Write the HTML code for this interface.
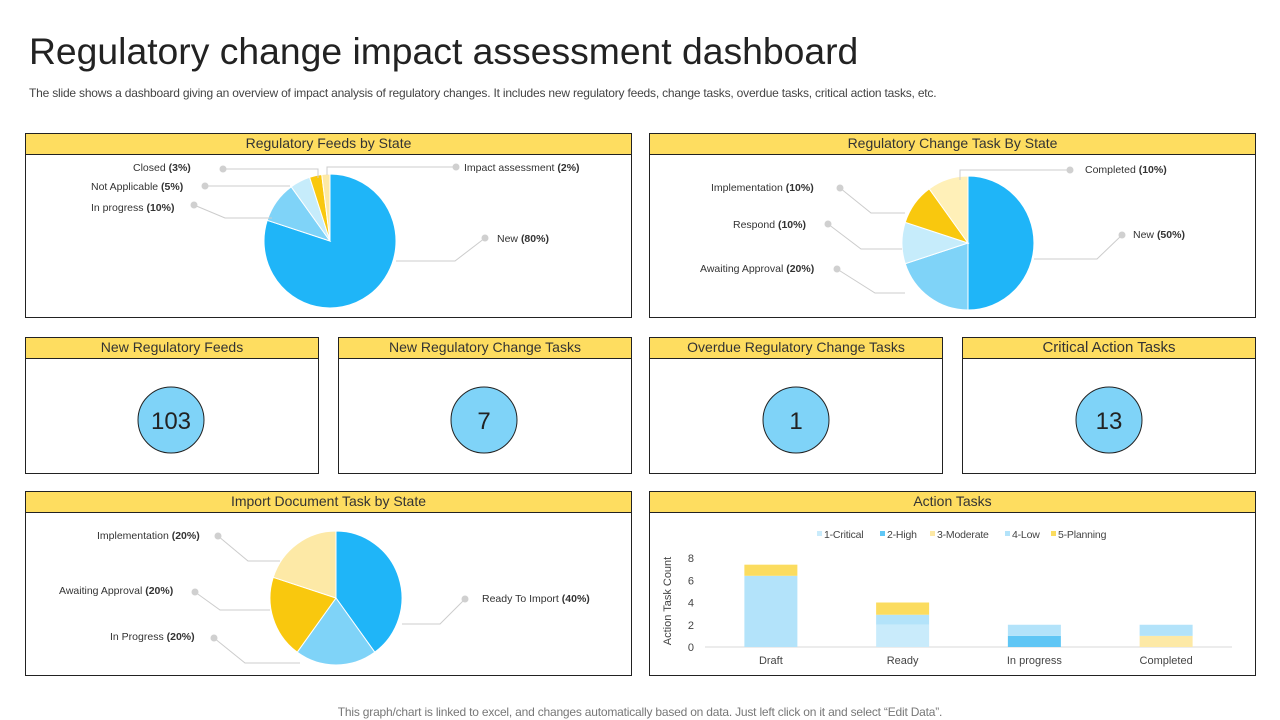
<!DOCTYPE html>
<html><head><meta charset="utf-8">
<style>
body{margin:0;width:1280px;height:720px;background:#fff;font-family:"Liberation Sans",sans-serif;overflow:hidden;position:relative}
.t{position:absolute;left:29px;top:30px;font-size:37.3px;color:#222}
.s{position:absolute;left:29px;top:86px;font-size:12px;color:#444;letter-spacing:-0.2px}
.f{position:absolute;left:0;width:1280px;text-align:center;top:705px;font-size:12px;color:#777;letter-spacing:-0.2px}
.p{position:absolute;border:1px solid #222;box-sizing:border-box}
.h{background:#fedd60;border-bottom:1px solid #222;height:20px;line-height:19px;text-align:center;font-size:14px;color:#333}
svg{position:absolute;left:0;top:0}
</style></head><body>
<div class="t">Regulatory change impact assessment dashboard</div>
<div class="s">The slide shows a dashboard giving an overview of impact analysis of regulatory changes. It includes new regulatory feeds, change tasks, overdue tasks, critical action tasks, etc.</div>
<div class="p" style="left:25px;top:133px;width:607px;height:185px"><div class="h">Regulatory Feeds by State</div></div>
<div class="p" style="left:649px;top:133px;width:607px;height:185px"><div class="h">Regulatory Change Task By State</div></div>
<div class="p" style="left:25px;top:337px;width:294px;height:137px"><div class="h">New Regulatory Feeds</div></div>
<div class="p" style="left:338px;top:337px;width:294px;height:137px"><div class="h">New Regulatory Change Tasks</div></div>
<div class="p" style="left:649px;top:337px;width:294px;height:137px"><div class="h">Overdue Regulatory Change Tasks</div></div>
<div class="p" style="left:962px;top:337px;width:294px;height:137px"><div class="h" style="font-size:15px">Critical Action Tasks</div></div>
<div class="p" style="left:25px;top:491px;width:607px;height:185px"><div class="h">Import Document Task by State</div></div>
<div class="p" style="left:649px;top:491px;width:607px;height:185px"><div class="h">Action Tasks</div></div>
<div class="f">This graph/chart is linked to excel, and changes automatically based on data. Just left click on it and select “Edit Data”.</div>
<svg id="s" width="1280" height="720" font-family="Liberation Sans, sans-serif"></svg>
<script>
// pie data
const pie1Labels=["New","In progress","Not Applicable","Closed","Impact assessment"];
const pie1Values=[80,10,5,3,2];
const pie2Labels=["New","Awaiting Approval","Respond","Implementation","Completed"];
const pie2Values=[50,20,10,10,10];
const pie3Labels=["Ready To Import","In Progress","Awaiting Approval","Implementation"];
const pie3Values=[40,20,20,20];
const kpiNames=["New Regulatory Feeds","New Regulatory Change Tasks","Overdue Regulatory Change Tasks","Critical Action Tasks"];
const kpiValues=[103,7,1,13];
// bar data
const barCategories=["Draft","Ready","In progress","Completed"];
const seriesNames=["1-Critical","2-High","3-Moderate","4-Low","5-Planning"];
const critical=[0,2,0,0];
const high=[0,0,1,0];
const moderate=[0,0,0,1];
const low=[6.4,0.9,1,1];
const planning=[1,1.1,0,0];
const yTicks=[0,2,4,6,8];

const S=document.getElementById('s');const NS='http://www.w3.org/2000/svg';
function el(t,a,txt){const e=document.createElementNS(NS,t);for(const k in a)e.setAttribute(k,a[k]);if(txt!==undefined)e.textContent=txt;S.appendChild(e);return e;}
function pie(cx,cy,rx,ry,vals,cols,names){
  const tot=vals.reduce((a,b)=>a+b,0);let a0=0;
  vals.forEach((v,i)=>{const a1=a0+v/tot*2*Math.PI;
    const x0=cx+rx*Math.sin(a0),y0=cy-ry*Math.cos(a0),x1=cx+rx*Math.sin(a1),y1=cy-ry*Math.cos(a1);
    const p=el('path',{d:`M${cx},${cy}L${x0},${y0}A${rx},${ry} 0 ${a1-a0>Math.PI?1:0} 1 ${x1},${y1}Z`,fill:cols[i],stroke:'#fff','stroke-width':1});
    
    
    a0=a1;});
}
function lab(x,y,name,val,dx,dy,lx,ly){
  el('polyline',{points:`${dx},${dy} ${lx[0]},${ly[0]} ${lx[1]},${ly[1]}`,fill:'none',stroke:'#ccc','stroke-width':1});
  el('circle',{cx:dx,cy:dy,r:3.5,fill:'#d0d0d0'});
  const t=el('text',{x:x,y:y,'font-size':10.5,fill:'#333'});
  const a=document.createElementNS(NS,'tspan');a.textContent=name+' ';t.appendChild(a);
  const b=document.createElementNS(NS,'tspan');b.setAttribute('font-weight','bold');b.textContent='('+val+'%)';t.appendChild(b);
  
  
}
const C1='#1fb5f8',C2='#7fd3f8',C3='#c6ecfb',C4='#f9c80e',C5='#fde9a6';
pie(330,241,66,67,pie1Values,[C1,C2,C3,C4,C5],pie1Labels);
lab(497,242,pie1Labels[0],pie1Values[0],485,238,[455,396],[261,261]);
lab(91,211,pie1Labels[1],pie1Values[1],194,205,[225,272],[218,218]);
lab(91,190,pie1Labels[2],pie1Values[2],205,186,[290,290],[186,186]);
lab(133,171,pie1Labels[3],pie1Values[3],223,169,[318,318],[169,178]);
lab(464,171,pie1Labels[4],pie1Values[4],456,167,[327,327],[167,175]);
pie(968,243,66,67,pie2Values,[C1,C2,C3,C4,'#fff0b8'],pie2Labels);
lab(1133,238,pie2Labels[0],pie2Values[0],1122,235,[1097,1034],[259,259]);
lab(700,272,pie2Labels[1],pie2Values[1],837,269,[875,905],[293,293]);
lab(733,228,pie2Labels[2],pie2Values[2],828,224,[861,902],[249,249]);
lab(711,191,pie2Labels[3],pie2Values[3],840,188,[871,905],[213,213]);
lab(1085,173,pie2Labels[4],pie2Values[4],1070,170,[960,960],[170,180]);
pie(336,598,66,67,pie3Values,[C1,C2,C4,C5],pie3Labels);
lab(482,602,pie3Labels[0],pie3Values[0],465,599,[440,402],[624,624]);
lab(110,640,pie3Labels[1],pie3Values[1],214,638,[245,300],[663,663]);
lab(59,594,pie3Labels[2],pie3Values[2],195,592,[220,270],[610,610]);
lab(97,539,pie3Labels[3],pie3Values[3],218,536,[248,280],[561,561]);
// KPIs
const kx=[171,484,796,1109];
kpiValues.forEach((v,i)=>{
  const c=el('circle',{cx:kx[i],cy:420,r:33,fill:'#7fd3f8',stroke:'#222','stroke-width':1});
  
  
  const t=el('text',{x:kx[i],y:429,'font-size':24,'text-anchor':'middle',fill:'#222'},String(v));
  
  
});
// bar chart
const x0=705,x1=1232,yb=647,yt=558,ymax=8;
const Y=v=>yb-(v/ymax)*(yb-yt);
const band=(x1-x0)/barCategories.length;
const X=i=>x0+band*(i+0.5);
yTicks.forEach(t=>{el('text',{x:694,y:Y(t)+4,'font-size':11,fill:'#444','text-anchor':'end'},t);});
el('line',{x1:x0,y1:yb,x2:x1,y2:yb,stroke:'#d9d9d9'});
const yt2=el('text',{x:0,y:0,'font-size':11,fill:'#444','text-anchor':'middle',transform:'translate(671,601) rotate(-90)'},'Action Task Count');


const series=[critical,high,moderate,low,planning];
const scol=['#c9ebfb','#5fc6f5','#fde9a6','#b3e3fa','#fbdc5f'];
barCategories.forEach((c,i)=>{
  let acc=0;
  series.forEach((s,k)=>{if(!s[i])return;
    const r=el('rect',{x:X(i)-26.5,y:Y(acc+s[i]),width:53,height:Y(acc)-Y(acc+s[i]),fill:scol[k]});
    
    
    acc+=s[i];});
  el('text',{x:X(i),y:664,'font-size':11,fill:'#444','text-anchor':'middle'},c);
});
const lx=[817,880,930,1005,1051];
seriesNames.forEach((n,k)=>{
  const r=el('rect',{x:lx[k],y:531,width:5,height:5,fill:scol[k]});
  
  
  el('text',{x:lx[k]+7,y:538,'font-size':10.5,fill:'#444','letter-spacing':'-0.2'},n);
});
</script>
</body></html>
